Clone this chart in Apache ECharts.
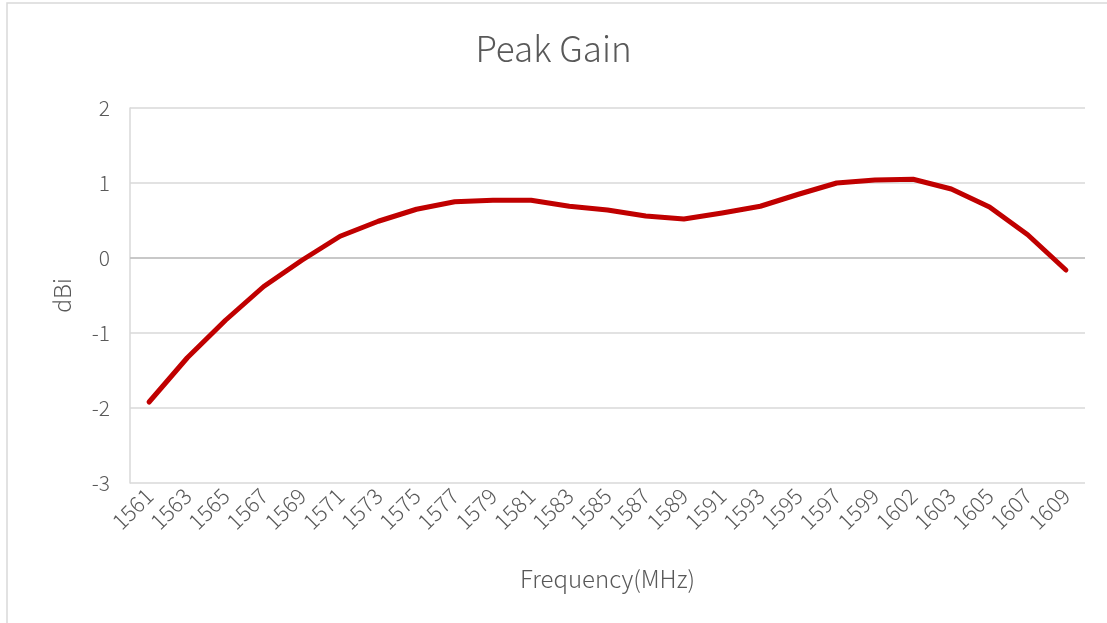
<!DOCTYPE html>
<html>
<head>
<meta charset="utf-8">
<title>Peak Gain</title>
<script src="https://cdn.jsdelivr.net/npm/echarts@6/dist/echarts.min.js"></script>
<style>
html, body { margin: 0; padding: 0; background: #fff; }
#echart { width: 1107px; height: 623px; }
</style>
</head>
<body>
<div id="echart"></div>
<script>
// 频率 (MHz)
var freqList = ['1561','1563','1565','1567','1569','1571','1573','1575','1577','1579','1581','1583','1585',
    '1587','1589','1591','1593','1595','1597','1599','1602','1603','1605','1607','1609'];
// 峰值增益 (dBi)
var gainList = [-1.92, -1.33, -0.83, -0.38, -0.03, 0.29, 0.49, 0.65, 0.75, 0.77, 0.77, 0.69, 0.64,
    0.56, 0.52, 0.60, 0.69, 0.85, 1.00, 1.04, 1.05, 0.92, 0.68, 0.31, -0.16];
var yTicks = [-3, -2, -1, 0, 1, 2];

var fontName = '"Noto Sans CJK SC", "Noto Sans", sans-serif';
var textColor = '#595959';

var myChart = echarts.init(document.getElementById('echart'));
var option = {
    animation: false,
    backgroundColor: '#fff',
    title: {
        text: 'Peak Gain',
        left: 'center',
        top: 26,
        textStyle: {
            fontFamily: fontName,
            fontSize: 35,
            fontWeight: 300,
            color: textColor
        }
    },
    graphic: [{
        type: 'rect',
        shape: { x: 7, y: 3, width: 1120, height: 640 },
        style: { fill: 'none', stroke: '#d9d9d9', lineWidth: 1.5 },
        silent: true
    }],
    grid: {
        left: 130,
        right: 22,
        top: 108,
        bottom: 140
    },
    xAxis: {
        type: 'category',
        data: freqList,
        boundaryGap: true,
        name: 'Frequency(MHz)',
        nameLocation: 'middle',
        nameGap: 84,
        nameTextStyle: { fontFamily: fontName, fontSize: 24, fontWeight: 300, color: textColor },
        axisLine: { show: false },
        axisTick: { show: false },
        axisLabel: {
            rotate: 45,
            interval: 0,
            margin: 9,
            fontFamily: fontName,
            fontSize: 22,
            fontWeight: 300,
            color: textColor
        }
    },
    yAxis: {
        type: 'value',
        min: yTicks[0],
        max: yTicks[yTicks.length - 1],
        interval: 1,
        name: 'dBi',
        nameLocation: 'middle',
        nameGap: 56,
        nameTextStyle: { fontFamily: fontName, fontSize: 23, fontWeight: 300, color: textColor },
        axisLine: { show: true, lineStyle: { color: '#d9d9d9', width: 1.5 } },
        axisTick: { show: false },
        axisLabel: {
            margin: 20,
            fontFamily: fontName,
            fontSize: 21,
            fontWeight: 300,
            color: textColor
        },
        splitLine: { lineStyle: { color: '#d9d9d9', width: 1.5 } }
    },
    series: [{
        name: 'Peak Gain',
        type: 'line',
        data: gainList,
        symbol: 'none',
        lineStyle: { color: '#c00000', width: 5, cap: 'round', join: 'round' },
        itemStyle: { color: '#c00000' },
        markLine: {
            silent: true,
            symbol: 'none',
            label: { show: false },
            lineStyle: { color: '#bfbfbf', type: 'solid', width: 1.5 },
            data: [{ yAxis: 0 }],
            z: 1
        }
    }]
};
myChart.setOption(option);
window.onresize = myChart.resize;
</script>
</body>
</html>
